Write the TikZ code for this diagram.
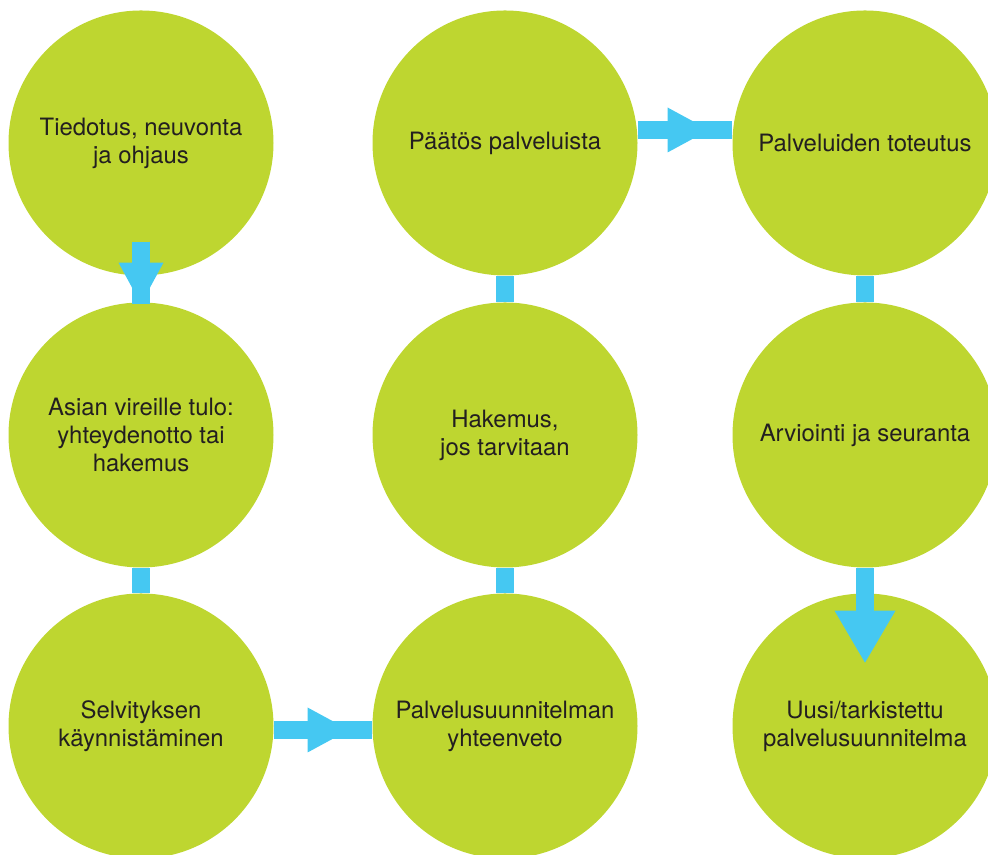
\documentclass[tikz,border=0pt]{standalone}
\usepackage{fontspec}
\setmainfont{TeX Gyre Heros}
\usepackage{tikz}
\usetikzlibrary{arrows.meta,decorations.markings}
\definecolor{leaf}{RGB}{190,214,48}
\definecolor{sky}{RGB}{69,200,242}
\definecolor{ink}{RGB}{35,31,32}
\tikzset{
  stage/.style={shape=circle, fill=leaf, minimum size=5.3cm, inner sep=0pt,
    align=center, text=ink, font=\fontsize{13.6}{16}\selectfont},
  bar/.style={draw=sky, line width=0.37cm},
  midtip/.style={postaction=decorate, decoration={markings,
    mark=at position #1 with {\arrow{Triangle[width=0.9cm,length=0.83cm,line width=0pt]}}}}
}
\begin{document}
\begin{tikzpicture}
    \useasboundingbox (0,0) rectangle (19.76,17.1);
    \node(p1)[stage] at(2.82,14.24) {Tiedotus, neuvonta\\ja ohjaus};
    \node(p2)[stage] at(2.82,8.4) {Asian vireille tulo:\\yhteydenotto tai\\hakemus};
    \node(p3)[stage] at(2.82,2.58) {Selvityksen\\käynnistäminen};
    \node(p4)[stage] at(10.1,2.58) {Palvelusuunnitelman\\yhteenveto};
    \node(p5)[stage] at(10.1,8.4) {Hakemus,\\jos tarvitaan};
    \node(p6)[stage] at(10.1,14.24) {Päätös palveluista};
    \node(p7)[stage] at(17.3,14.24) {Palveluiden toteutus};
    \node(p8)[stage] at(17.3,8.4) {Arviointi ja seuranta};
    \node(p9)[stage] at(17.3,2.58) {Uusi/tarkistettu\\palvelusuunnitelma};
    \draw[bar] ([yshift=0.68cm]p1.south) -- (p2.north);
    \draw[bar, midtip=1] ([yshift=0.68cm]p1.south) -- ([yshift=-0.04cm]p2.north);
    \draw[bar] (p2.south) -- (p3.north);
    \draw[bar, midtip=0.765] ([yshift=-0.08cm]p3.east) -- ([yshift=-0.08cm]p4.west);
    \draw[bar] (p4.north) -- (p5.south);
    \draw[bar] (p5.north) -- (p6.south);
    \draw[bar, midtip=0.755] ([yshift=0.26cm]p6.east) -- ([yshift=0.26cm]p7.west);
    \draw[bar] (p7.south) -- (p8.north);
    \draw[bar, -{Triangle[width=1.22cm,length=1.04cm,line width=0pt]}] (p8.south) -- ([yshift=-1.39cm]p9.north);
\end{tikzpicture}
\end{document}
